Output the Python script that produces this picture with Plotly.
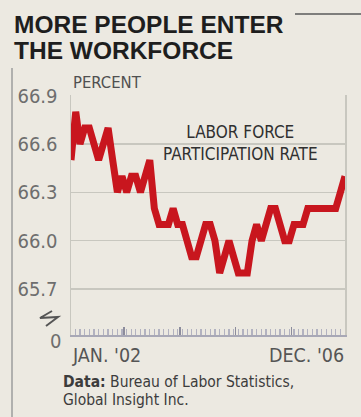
import pandas as pd
import plotly.graph_objects as go

# ---- data ----
months = pd.date_range("2002-01-01", periods=60, freq="MS")
participation_rate = [
    66.5, 66.8, 66.6, 66.7, 66.7, 66.6, 66.5, 66.6, 66.7, 66.5, 66.3, 66.4,
    66.3, 66.4, 66.4, 66.3, 66.4, 66.5, 66.2, 66.1, 66.1, 66.1, 66.2, 66.1,
    66.1, 66.0, 65.9, 65.9, 66.0, 66.1, 66.1, 66.0, 65.8, 65.9, 66.0, 65.9,
    65.8, 65.8, 65.8, 66.0, 66.1, 66.0, 66.1, 66.2, 66.2, 66.1, 66.0, 66.0,
    66.1, 66.1, 66.1, 66.2, 66.2, 66.2, 66.2, 66.2, 66.2, 66.2, 66.3, 66.4,
]
y_tick_vals = [65.7, 66.0, 66.3, 66.6, 66.9]
y_tick_text = ["65.7", "66.0", "66.3", "66.6", "66.9"]
x_labels = ["JAN. '02", "DEC. '06"]
year_marks = ["2002-12-15", "2003-12-15", "2004-12-15", "2005-12-15"]

title_lines = ["MORE PEOPLE ENTER", "THE WORKFORCE"]
unit_label = "PERCENT"
series_label = "LABOR FORCE<br>PARTICIPATION RATE"
source_lines = ["<b>Data:</b> Bureau of Labor Statistics,", "Global Insight Inc."]

# ---- layout helpers (pixel -> paper) ----
W, H = 361, 417
L, R, T, B = 71, 16, 95, 82
PW, PH = W - L - R, H - T - B


def px(x):
    return (x - L) / PW


def py(y):
    return (H - B - y) / PH


BG = "#ECE9E1"
NARROW = "Liberation Sans Narrow, DejaVu Sans Condensed, Roboto, sans-serif"
RED = "#C8161E"

fig = go.Figure()
fig.add_trace(go.Scatter(
    x=months, y=participation_rate, mode="lines",
    line=dict(color=RED, width=7),
    hoverinfo="skip", showlegend=False,
))

fig.update_layout(
    width=W, height=H,
    margin=dict(l=L, r=R, t=T, b=B, pad=0),
    paper_bgcolor=BG, plot_bgcolor=BG,
    showlegend=False,
    xaxis=dict(
        range=[months[0], months[-1]],
        showgrid=False, zeroline=False,
        showline=True, linecolor="#A8A8B6", linewidth=2,
        tickmode="array", tickvals=year_marks, ticktext=["", "", "", ""],
        ticks="inside", ticklen=8, tickwidth=1.5, tickcolor="#8C8C9C",
        showticklabels=False,
        minor=dict(ticks="inside", ticklen=6, tickwidth=1.2,
                   tickcolor="#B2B2C0", dtick="M1", tick0="2002-01-01",
                   showgrid=False),
    ),
    yaxis=dict(
        range=[65.4148, 66.904],
        tickmode="array", tickvals=y_tick_vals, ticktext=y_tick_text,
        showgrid=True, gridcolor="#C8C7BF", gridwidth=1.5,
        zeroline=False,
        showline=True, mirror=True, linecolor="#C8C7BF", linewidth=1.5,
        ticks="", ticklabelstandoff=8,
        tickfont=dict(family=NARROW, size=20, color="#6E6E6E"),
    ),
)

ann = []
# title
for i, line in enumerate(title_lines):
    ann.append(dict(text="<b>" + line + "</b>", x=px(12), y=py(24.5 + 25.5 * i),
                    xanchor="left", yanchor="middle",
                    font=dict(family="Liberation Sans, Arial, sans-serif",
                              size=24.5, color="#1E1E1E")))
# unit label
ann.append(dict(text=unit_label, x=px(71), y=py(82), xanchor="left",
                yanchor="middle",
                font=dict(family=NARROW, size=16.5, color="#505050")))
# series label
ann.append(dict(text=series_label, x=px(240), y=py(143), xanchor="center",
                yanchor="middle", align="center",
                font=dict(family=NARROW, size=17, color="#303030")))
# zero label
ann.append(dict(text="0", x=px(63), y=py(341), xanchor="right",
                yanchor="middle",
                font=dict(family=NARROW, size=20, color="#6E6E6E")))
# x labels
ann.append(dict(text=x_labels[0], x=px(70), y=py(355), xanchor="left",
                yanchor="middle",
                font=dict(family=NARROW, size=19.5, color="#555555")))
ann.append(dict(text=x_labels[1], x=px(346), y=py(355), xanchor="right",
                yanchor="middle",
                font=dict(family=NARROW, size=19.5, color="#555555")))
# source
for i, line in enumerate(source_lines):
    ann.append(dict(text=line, x=px(61), y=py(382 + 18 * i), xanchor="left",
                    yanchor="middle",
                    font=dict(family=NARROW, size=15.5, color="#3C3C3C")))

for a in ann:
    a.update(xref="paper", yref="paper", showarrow=False)
fig.update_layout(annotations=ann)

shapes = [
    # left rule
    dict(type="line", x0=px(12), x1=px(12), y0=py(68), y1=py(417),
         line=dict(color="#9C9C9C", width=1.5)),
    # top right rule
    dict(type="line", x0=px(295), x1=px(361), y0=py(14), y1=py(14),
         line=dict(color="#5A5A5A", width=1.5)),
    # axis break symbol
    dict(type="path",
         path=f"M {px(52)},{py(311)} L {px(40)},{py(318)} L {px(58)},{py(317)} L {px(46)},{py(326)}",
         line=dict(color="#555555", width=2)),
]
for s in shapes:
    s.update(xref="paper", yref="paper")
fig.update_layout(shapes=shapes)

fig.write_html(
    "out.html",
    config={"displayModeBar": False, "staticPlot": True},
    post_script="document.body.style.margin='0';document.body.style.background='#ECE9E1';",
)
